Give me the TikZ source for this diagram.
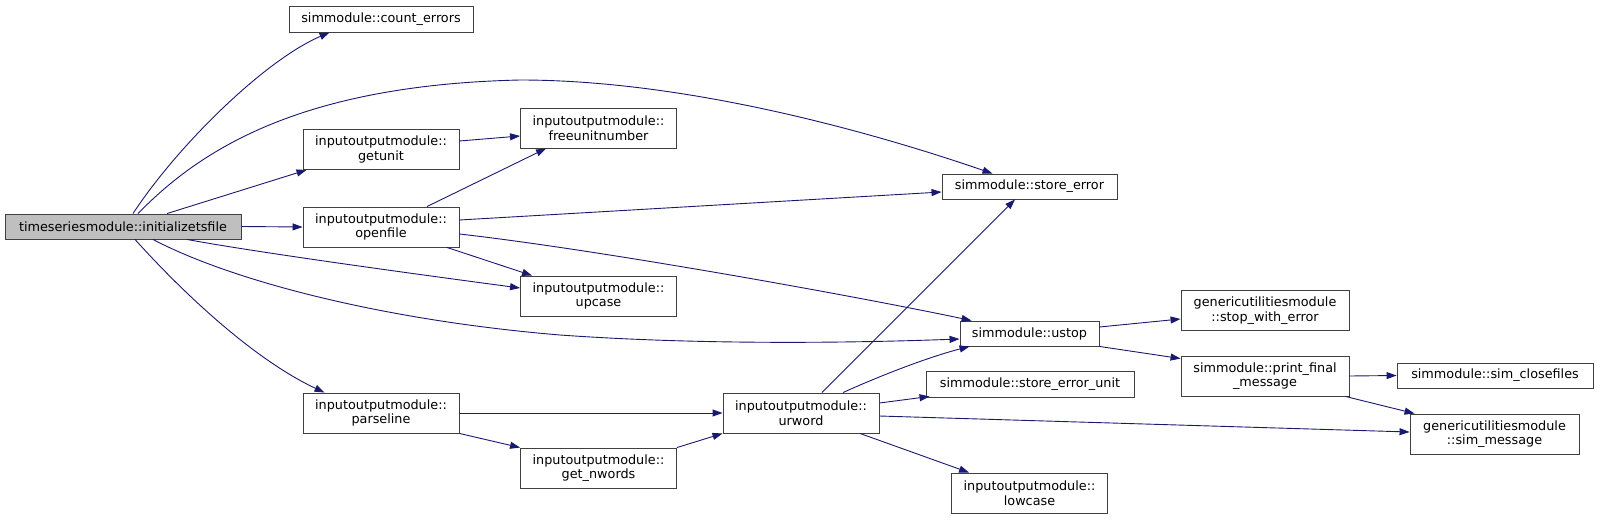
\documentclass[tikz,border=0pt]{standalone}
\usepackage{fontspec}
\setmainfont{DejaVu Sans}
\usetikzlibrary{arrows.meta, positioning, calc}
\definecolor{edgeblue}{RGB}{25,25,112}
\definecolor{boxgray}{RGB}{64,64,64}
\definecolor{rootfill}{RGB}{191,191,191}

\begin{document}
\begin{tikzpicture}[x=1pt, y=-1pt,
  fn/.style={draw=boxgray, fill=white, line width=0.9pt, inner sep=0pt, align=center,
    font=\fontsize{12.8}{14.5}\selectfont},
  io/.style={fn, minimum width=156pt, minimum height=40pt},
  call/.style={edgeblue, line width=0.9pt, -{Triangle[length=10pt,width=7pt]}}]
  \useasboundingbox (0,0) rectangle (1597,519);
  % Functions
  \node[fn, fill=rootfill, minimum width=236pt, minimum height=25pt] (init) at (123,226.5) {timeseriesmodule::initializetsfile};
  \node[fn, minimum width=184pt, minimum height=26pt] (counterr) at (381,19) {simmodule::count\_errors};
  \node[io] (getunit) at (381,149.5) {inputoutputmodule::\\getunit};
  \node[io] (freeunit) at (598.5,128) {inputoutputmodule::\\freeunitnumber};
  \node[io] (openfile) at (381,227) {inputoutputmodule::\\openfile};
  \node[fn, minimum width=175pt, minimum height=25pt] (storeerr) at (1029.5,186.5) {simmodule::store\_error};
  \node[io] (upcase) at (598.5,296) {inputoutputmodule::\\upcase};
  \node[fn, minimum width=139pt, minimum height=25pt] (ustop) at (1029.5,333.5) {simmodule::ustop};
  \node[fn, minimum width=208pt, minimum height=26pt] (storeunit) at (1030,384) {simmodule::store\_error\_unit};
  \node[io] (parseline) at (381,413) {inputoutputmodule::\\parseline};
  \node[io] (urword) at (801,413) {inputoutputmodule::\\urword};
  \node[io] (nwords) at (598.5,468) {inputoutputmodule::\\get\_nwords};
  \node[io] (lowcase) at (1029.5,493) {inputoutputmodule::\\lowcase};
  \node[fn, minimum width=168pt, minimum height=40pt] (stopwerr) at (1265,310.5) {genericutilitiesmodule\\::stop\_with\_error};
  \node[fn, minimum width=168pt, minimum height=40pt] (printfinal) at (1265,376) {simmodule::print\_final\\\_message};
  \node[fn, minimum width=196pt, minimum height=25pt] (closefiles) at (1495,375.5) {simmodule::sim\_closefiles};
  \node[fn, minimum width=169pt, minimum height=40pt] (simmsg) at (1494.5,434) {genericutilitiesmodule\\::sim\_message};
  % Calls from the root
  \draw[call] ([xshift=10pt]init.north) .. controls (178,145) and (265,60) .. ([xshift=41pt]counterr.south west);
  \draw[call] ([xshift=15pt]init.north) .. controls (200,150) and (300,85) .. (520,80)
    .. controls (680,80) and (860,128) .. ([xshift=-37pt]storeerr.north);
  \draw[call] ([xshift=44pt]init.north) -- ([xshift=4pt]getunit.south west);
  \draw[call] (init.east) -- (openfile.west);
  \draw[call] ([xshift=64pt]init.south) .. controls (260,253) and (430,276) .. ([yshift=8pt]upcase.west);
  \draw[call] ([xshift=30pt]init.south) .. controls (230,280) and (380,320) .. (560,335)
    .. controls (700,345) and (850,343) .. ([yshift=-5.5pt]ustop.west);
  \draw[call] ([xshift=12pt]init.south) .. controls (185,295) and (255,360) .. ([xshift=22pt]parseline.north west);
  % getunit and openfile
  \draw[call] ([yshift=8.5pt]getunit.east) -- ([yshift=-8pt]freeunit.west);
  \draw[call] ([xshift=46pt]openfile.north) -- ([xshift=26pt]freeunit.south west);
  \draw[call] ([yshift=7pt]openfile.east) -- ([yshift=-5.5pt]storeerr.west);
  \draw[call] ([xshift=66pt]openfile.south) -- ([xshift=12pt]upcase.north west);
  \draw[call] ([yshift=-7pt]openfile.east) .. controls (600,250) and (850,295) .. ([xshift=12pt]ustop.north west);
  % parseline and urword
  \draw[call] (parseline.east) -- (urword.west);
  \draw[call] (parseline.south east) -- (nwords.north west);
  \draw[call] (nwords.north east) -- (urword.south west);
  \draw[call] ([xshift=21pt]urword.north) -- ([xshift=-14.5pt]storeerr.south);
  \draw[call] ([xshift=42pt]urword.north) .. controls (875,378) and (925,358) .. ([xshift=10pt]ustop.south west);
  \draw[call] ([yshift=10pt]urword.east) -- ([xshift=4pt,yshift=1pt]storeunit.south west);
  \draw[call] ([yshift=-3pt]urword.east) -- ([yshift=2pt]simmsg.west);
  \draw[call] ([xshift=59pt]urword.south) -- ([xshift=18pt]lowcase.north west);
  % ustop and below
  \draw[call] ([yshift=6.5pt]ustop.east) -- ([yshift=-8.5pt]stopwerr.west);
  \draw[call] (ustop.south east) -- ([yshift=-3pt]printfinal.north west);
  \draw[call] (printfinal.east) -- (closefiles.west);
  \draw[call] ([xshift=-4pt]printfinal.south east) -- ([xshift=5pt]simmsg.north west);
\end{tikzpicture}
\end{document}
